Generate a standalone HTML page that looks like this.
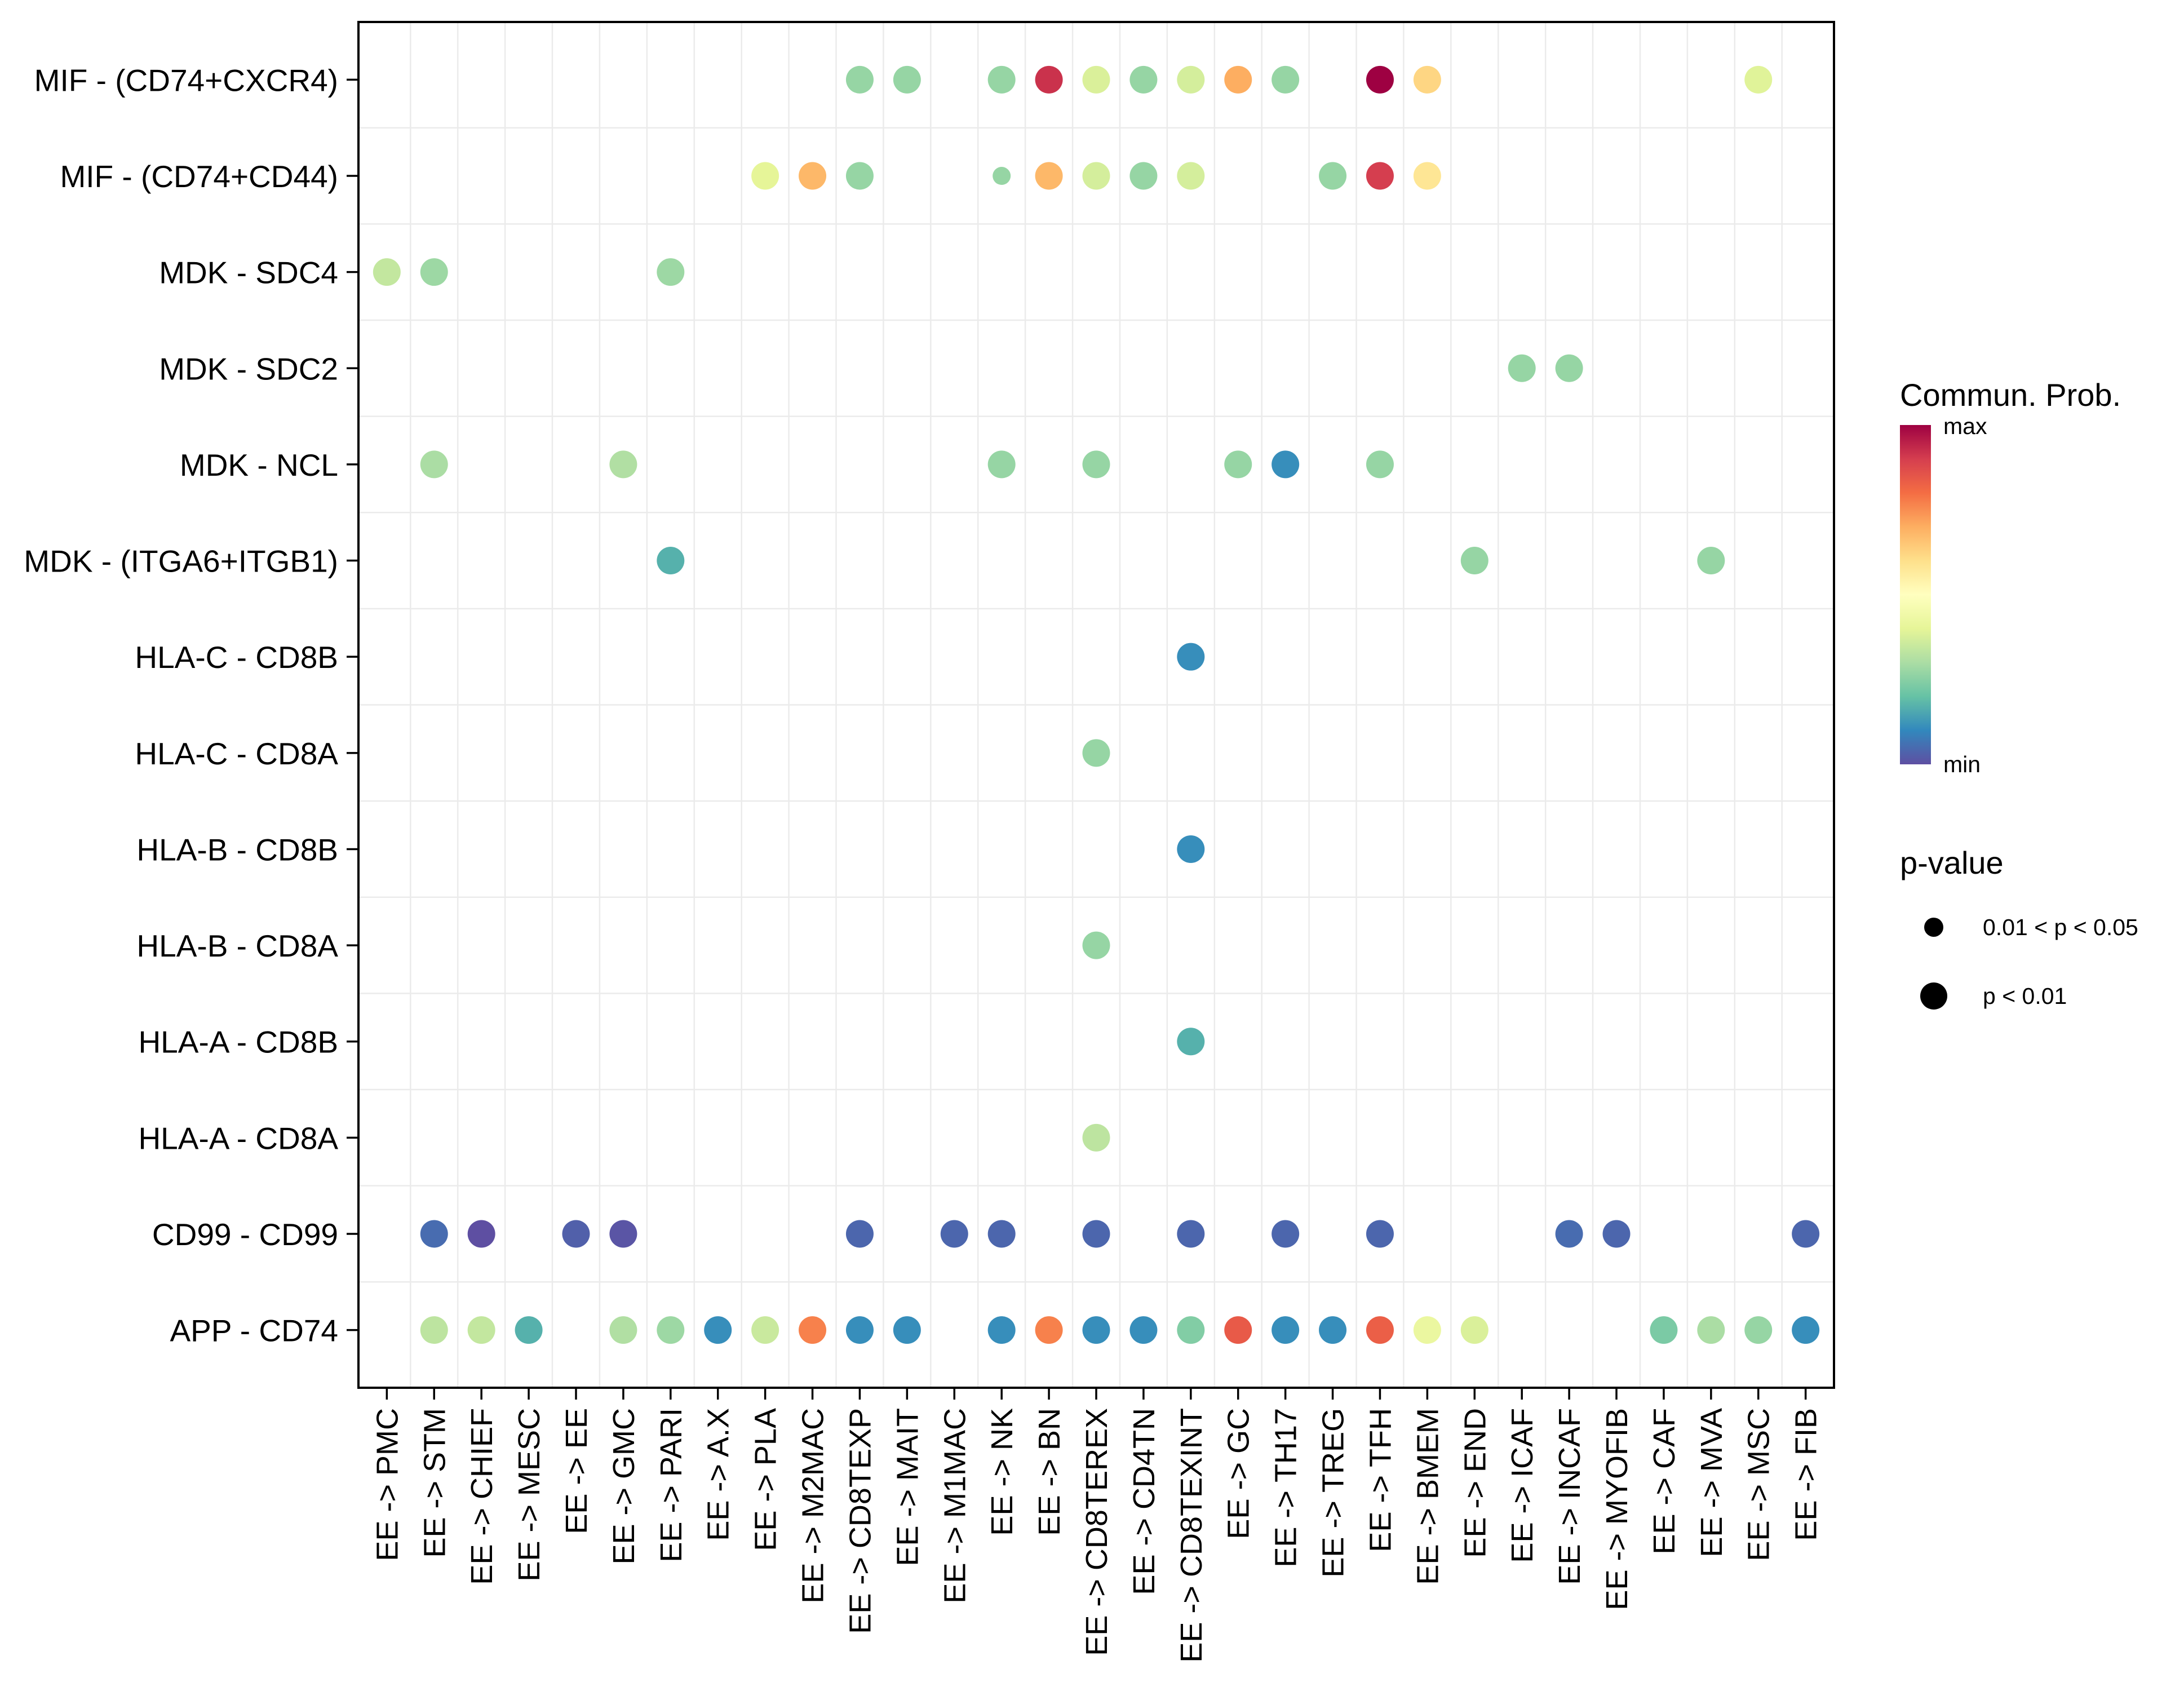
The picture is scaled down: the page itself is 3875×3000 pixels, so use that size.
<!DOCTYPE html>
<html><head><meta charset="utf-8"><style>
html,body{margin:0;padding:0;background:#fff}
svg{display:block;font-family:"Liberation Sans",Arial,sans-serif}
</style></head><body>
<svg id="chart" width="3875" height="3000" viewBox="0 0 3875 3000">
<defs><linearGradient id="spectral" x1="0" y1="1" x2="0" y2="0">
<stop offset="0" stop-color="#5E4FA2"/><stop offset="0.1" stop-color="#3288BD"/><stop offset="0.2" stop-color="#66C2A5"/><stop offset="0.3" stop-color="#ABDDA4"/><stop offset="0.4" stop-color="#E6F598"/><stop offset="0.5" stop-color="#FFFFBF"/><stop offset="0.6" stop-color="#FEE08B"/><stop offset="0.7" stop-color="#FDAE61"/><stop offset="0.8" stop-color="#F46D43"/><stop offset="0.9" stop-color="#D53E4F"/><stop offset="1" stop-color="#9E0142"/>
</linearGradient></defs>
<g id="grid"></g>
<g id="dots"></g>
<rect x="636" y="39" width="2618" height="2423" fill="none" stroke="#000" stroke-width="4"/>
<g id="yaxis"></g>
<g id="xaxis"></g>
<g>
<text x="3371" y="720" font-size="56">Commun. Prob.</text>
<rect x="3371" y="754" width="55" height="602" fill="url(#spectral)"/>
<text x="3448" y="770" font-size="41">max</text>
<text x="3448" y="1370" font-size="41">min</text>
</g>
<g>
<text x="3371" y="1550" font-size="56">p-value</text>
<circle cx="3431" cy="1645" r="17" fill="#000"/>
<text x="3518" y="1659" font-size="41">0.01 &lt; p &lt; 0.05</text>
<circle cx="3431" cy="1767" r="24" fill="#000"/>
<text x="3518" y="1781" font-size="41">p &lt; 0.01</text>
</g>
</svg>
<script>
const targets = ["PMC","STM","CHIEF","MESC","EE","GMC","PARI","A.X","PLA","M2MAC","CD8TEXP","MAIT","M1MAC","NK","BN","CD8TEREX","CD4TN","CD8TEXINT","GC","TH17","TREG","TFH","BMEM","END","ICAF","INCAF","MYOFIB","CAF","MVA","MSC","FIB"];
const pairs = ["MIF - (CD74+CXCR4)","MIF - (CD74+CD44)","MDK - SDC4","MDK - SDC2","MDK - NCL","MDK - (ITGA6+ITGB1)","HLA-C - CD8B","HLA-C - CD8A","HLA-B - CD8B","HLA-B - CD8A","HLA-A - CD8B","HLA-A - CD8A","CD99 - CD99","APP - CD74"];
const pointPair   = ["MIF - (CD74+CXCR4)","MIF - (CD74+CXCR4)","MIF - (CD74+CXCR4)","MIF - (CD74+CXCR4)","MIF - (CD74+CXCR4)","MIF - (CD74+CXCR4)","MIF - (CD74+CXCR4)","MIF - (CD74+CXCR4)","MIF - (CD74+CXCR4)","MIF - (CD74+CXCR4)","MIF - (CD74+CXCR4)","MIF - (CD74+CXCR4)",
 "MIF - (CD74+CD44)","MIF - (CD74+CD44)","MIF - (CD74+CD44)","MIF - (CD74+CD44)","MIF - (CD74+CD44)","MIF - (CD74+CD44)","MIF - (CD74+CD44)","MIF - (CD74+CD44)","MIF - (CD74+CD44)","MIF - (CD74+CD44)","MIF - (CD74+CD44)",
 "MDK - SDC4","MDK - SDC4","MDK - SDC4","MDK - SDC2","MDK - SDC2",
 "MDK - NCL","MDK - NCL","MDK - NCL","MDK - NCL","MDK - NCL","MDK - NCL","MDK - NCL",
 "MDK - (ITGA6+ITGB1)","MDK - (ITGA6+ITGB1)","MDK - (ITGA6+ITGB1)",
 "HLA-C - CD8B","HLA-C - CD8A","HLA-B - CD8B","HLA-B - CD8A","HLA-A - CD8B","HLA-A - CD8A",
 "CD99 - CD99","CD99 - CD99","CD99 - CD99","CD99 - CD99","CD99 - CD99","CD99 - CD99","CD99 - CD99","CD99 - CD99","CD99 - CD99","CD99 - CD99","CD99 - CD99","CD99 - CD99","CD99 - CD99","CD99 - CD99",
 "APP - CD74","APP - CD74","APP - CD74","APP - CD74","APP - CD74","APP - CD74","APP - CD74","APP - CD74","APP - CD74","APP - CD74","APP - CD74","APP - CD74","APP - CD74","APP - CD74","APP - CD74","APP - CD74","APP - CD74","APP - CD74","APP - CD74","APP - CD74","APP - CD74","APP - CD74","APP - CD74","APP - CD74","APP - CD74"];
const pointTarget = ["CD8TEXP","MAIT","NK","BN","CD8TEREX","CD4TN","CD8TEXINT","GC","TH17","TFH","BMEM","MSC",
 "PLA","M2MAC","CD8TEXP","NK","BN","CD8TEREX","CD4TN","CD8TEXINT","TREG","TFH","BMEM",
 "PMC","STM","PARI","ICAF","INCAF",
 "STM","GMC","NK","CD8TEREX","GC","TH17","TFH",
 "PARI","END","MVA",
 "CD8TEXINT","CD8TEREX","CD8TEXINT","CD8TEREX","CD8TEXINT","CD8TEREX",
 "STM","CHIEF","EE","GMC","CD8TEXP","M1MAC","NK","CD8TEREX","CD8TEXINT","TH17","TFH","INCAF","MYOFIB","FIB",
 "STM","CHIEF","MESC","GMC","PARI","A.X","PLA","M2MAC","CD8TEXP","MAIT","NK","BN","CD8TEREX","CD4TN","CD8TEXINT","GC","TH17","TREG","TFH","BMEM","END","CAF","MVA","MSC","FIB"];
const pointProb   = [0.27,0.27,0.27,0.92,0.38,0.27,0.37,0.70,0.27,1.00,0.62,0.39,
 0.40,0.68,0.27,0.27,0.68,0.37,0.27,0.37,0.27,0.90,0.58,
 0.34,0.28,0.28,0.27,0.27,
 0.30,0.31,0.27,0.27,0.27,0.11,0.27,
 0.17,0.27,0.27,
 0.11,0.27,0.11,0.27,0.17,0.33,
 0.05,0.00,0.03,0.01,0.04,0.04,0.04,0.04,0.04,0.04,0.04,0.05,0.04,0.04,
 0.33,0.34,0.17,0.31,0.28,0.11,0.35,0.77,0.11,0.11,0.11,0.77,0.11,0.11,0.24,0.84,0.11,0.11,0.83,0.42,0.38,0.23,0.30,0.27,0.11];
const pointPLevel = [1,1,1,1,1,1,1,1,1,1,1,1, 1,1,1,0,1,1,1,1,1,1,1, 1,1,1,1,1, 1,1,1,1,1,1,1, 1,1,1, 1,1,1,1,1,1,
 1,1,1,1,1,1,1,1,1,1,1,1,1,1,
 1,1,1,1,1,1,1,1,1,1,1,1,1,1,1,1,1,1,1,1,1,1,1,1,1];

const NS="http://www.w3.org/2000/svg";
const L=636,R=3254,T=39,B=2462;
const xu=(R-L)/(targets.length+0.2), yu=(B-T)/(pairs.length+0.2);
function xScale(t){return L+(0.6+targets.indexOf(t))*xu;}
function yScale(p){return T+(0.6+pairs.indexOf(p))*yu;}
const stops=["#5E4FA2","#3288BD","#66C2A5","#ABDDA4","#E6F598","#FFFFBF","#FEE08B","#FDAE61","#F46D43","#D53E4F","#9E0142"];
function hex(c){return [1,3,5].map(i=>parseInt(c.substr(i,2),16));}
function colorScale(v){v=Math.max(0,Math.min(1,v));const f=v*10,i=Math.min(9,Math.floor(f)),t=f-i;const a=hex(stops[i]),b=hex(stops[i+1]);return "rgb("+a.map((x,k)=>Math.round(x+(b[k]-x)*t)).join(",")+")";}
function sizeScale(p){return p?24.5:16;}
function mk(tag,attrs,parent){const e=document.createElementNS(NS,tag);for(const k in attrs)e.setAttribute(k,attrs[k]);parent.appendChild(e);return e;}
const grid=document.getElementById('grid'),dots=document.getElementById('dots'),ya=document.getElementById('yaxis'),xa=document.getElementById('xaxis');
for(let i=1;i<targets.length;i++){const x=L+(0.6+i-0.5)*xu;
 const g=mk('line',{x1:x,x2:x,y1:T,y2:B,stroke:'#EBEBEB','stroke-width':2.5},grid);
 
 }
for(let i=1;i<pairs.length;i++){const y=T+(0.6+i-0.5)*yu;
 const g=mk('line',{x1:L,x2:R,y1:y,y2:y,stroke:'#EBEBEB','stroke-width':2.5},grid);
 
 }
pairs.forEach(p=>{const y=yScale(p);
 const tk=mk('line',{x1:615,x2:L,y1:y,y2:y,stroke:'#000','stroke-width':3.5},ya);
 
 
 const t=mk('text',{x:600,y:y+20,'font-size':55,'text-anchor':'end'},ya);t.textContent=p;
 
 });
targets.forEach(tg=>{const x=xScale(tg);
 const tk=mk('line',{x1:x,x2:x,y1:B,y2:2483,stroke:'#000','stroke-width':3.5},xa);
 
 
 const t=mk('text',{x:0,y:0,'font-size':54,'text-anchor':'end',transform:'translate('+(x+19)+',2498) rotate(-90)'},xa);t.textContent='EE -> '+tg;
 
 });
for(let i=0;i<pointPair.length;i++){
 const c=mk('circle',{cx:xScale(pointTarget[i]),cy:yScale(pointPair[i]),r:sizeScale(pointPLevel[i]),fill:colorScale(pointProb[i])},dots);
 
 }
</script>
</body></html>
